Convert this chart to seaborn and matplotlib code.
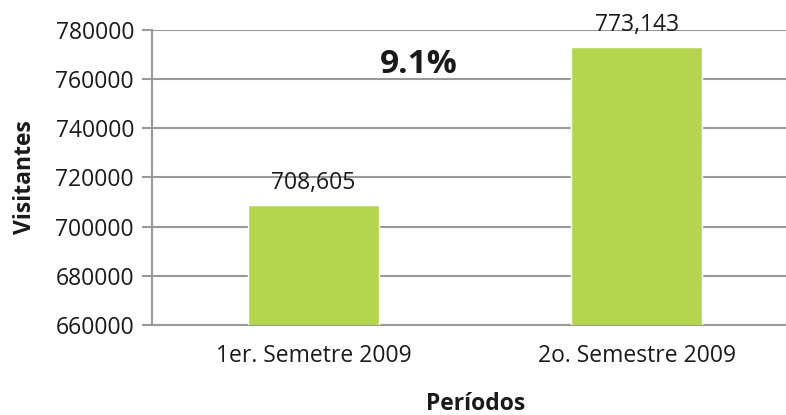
import matplotlib
matplotlib.use('Agg')
import pandas as pd
import matplotlib.pyplot as plt
import seaborn as sns

periodos = ['1er. Semetre 2009', '2o. Semestre 2009']
visitantes = [708605, 773143]
etiquetas = ['708,605', '773,143']
crecimiento = '9.1%'

df = pd.DataFrame({'Periodo': periodos, 'Visitantes': visitantes})

sns.set_style('white')
plt.rcParams['font.family'] = ['Open Sans', 'DejaVu Sans']

fig = plt.figure(figsize=(7.86, 4.15), dpi=100)
ax = fig.add_axes([0.1935, 0.217, 0.822, 0.711])

sns.barplot(data=df, x='Periodo', y='Visitantes', color='#b5d550',
            saturation=1, width=0.405, ax=ax, zorder=3)

ax.set_ylim(660000, 780000)
ax.set_yticks(range(660000, 780001, 20000))
ax.yaxis.grid(True, color='#999999', linewidth=1.5, zorder=0)
ax.set_axisbelow(True)

for i, (v, t) in enumerate(zip(visitantes, etiquetas)):
    ax.annotate(t, (i, v), xytext=(0, 11.5), textcoords='offset points',
                ha='center', va='baseline', fontsize=16.5, color='#1a1a1a',
                annotation_clip=False)

ax.text(0.324, 766000, crecimiento, ha='center', va='center',
        fontsize=24, fontweight='bold', color='#1a1a1a')

for s in ['top', 'right']:
    ax.spines[s].set_visible(False)
for s in ['left', 'bottom']:
    ax.spines[s].set_color('#999999')
    ax.spines[s].set_linewidth(1.5)

ax.tick_params(axis='y', which='major', length=7, width=1.5, color='#999999',
               labelsize=16.5, labelcolor='#1a1a1a', pad=6, left=True)
ax.tick_params(axis='x', length=0, labelsize=16.5, labelcolor='#1a1a1a', pad=14)

ax.set_ylabel('Visitantes', fontsize=16.5, fontweight='bold', color='#1a1a1a', labelpad=13)
ax.set_xlabel('Períodos', fontsize=16.5, fontweight='bold', color='#1a1a1a', labelpad=17)

fig.savefig('out.png', dpi=100)
